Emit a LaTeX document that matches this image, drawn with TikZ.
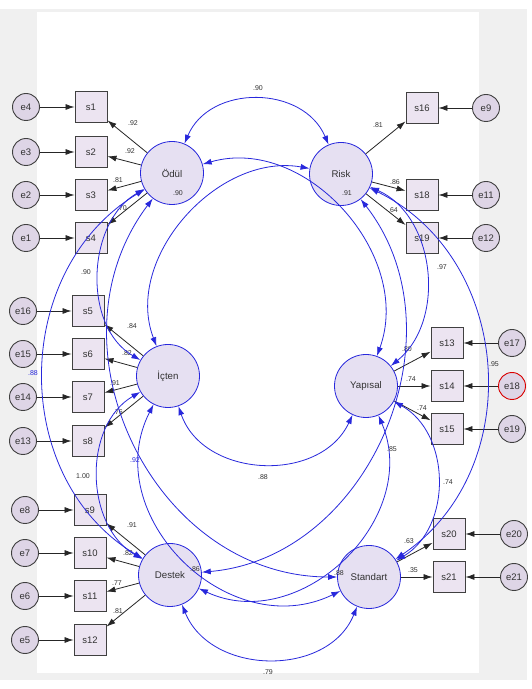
\documentclass[tikz,border=0pt]{standalone}
\usepackage{fontspec}
\setmainfont{Liberation Sans}
\usepackage{tikz}
\usetikzlibrary{arrows.meta}

\definecolor{lav}{RGB}{230,224,242}
\definecolor{boxfill}{RGB}{236,228,241}
\definecolor{errfill}{RGB}{222,213,230}
\definecolor{amosblue}{RGB}{40,40,220}
\definecolor{txt}{RGB}{50,50,50}
\definecolor{panel}{RGB}{240,240,240}

\begin{document}
\begin{tikzpicture}[x=1pt,y=1pt,
    factor/.style={circle,draw=amosblue,line width=0.8pt,fill=lav,minimum size=63pt,inner sep=0pt,font=\fontsize{9.7}{11}\selectfont,text=txt},
    obs/.style={rectangle,draw=black!75,line width=0.9pt,fill=boxfill,minimum width=32pt,minimum height=31pt,inner sep=0pt,font=\fontsize{9.5}{11}\selectfont,text=txt},
    err/.style={circle,draw=black!75,line width=0.9pt,fill=errfill,minimum size=27pt,inner sep=0pt,font=\fontsize{9.5}{11}\selectfont,text=txt},
    load/.style={-{Latex[length=9pt,width=6pt]},line width=0.8pt,black!85},
    cov/.style={{Latex[length=9pt,width=6pt]}-{Latex[length=9pt,width=6pt]},line width=0.8pt,amosblue},
    lbl/.style={font=\fontsize{7}{8}\selectfont,text=txt,inner sep=0pt},
    blbl/.style={lbl,text=amosblue}]
       \useasboundingbox (0,0) rectangle (531,689);
       \fill[panel] (0,9) rectangle (527,680);
       \fill[white] (37,16) rectangle (479,676.5);

       \node[factor] (odul) at (172,516) {Ödül};
       \node[factor] (risk) at (341,515) {Risk};
       \node[factor] (icten) at (168,313) {İçten};
       \node[factor] (yapisal) at (366,303) {Yapısal};
       \node[factor] (destek) at (170,114) {Destek};
       \node[factor] (standart) at (369,112) {Standart};

       \node[obs] (s1) at (91,582) {s1};
       \node[obs] (s2) at (91,537) {s2};
       \node[obs] (s3) at (91,494) {s3};
       \node[obs] (s4) at (91,451) {s4};
       \node[obs] (s5) at (88,378) {s5};
       \node[obs] (s6) at (88,335) {s6};
       \node[obs] (s7) at (88,292) {s7};
       \node[obs] (s8) at (88,248) {s8};
       \node[obs] (s9) at (90,179) {s9};
       \node[obs] (s10) at (90,136) {s10};
       \node[obs] (s11) at (90,93) {s11};
       \node[obs] (s12) at (90,49) {s12};
       \node[obs] (s16) at (422,581) {s16};
       \node[obs] (s18) at (422,494) {s18};
       \node[obs] (s19) at (422,451) {s19};
       \node[obs] (s13) at (447,346) {s13};
       \node[obs] (s14) at (447,303) {s14};
       \node[obs] (s15) at (447,260) {s15};
       \node[obs] (s20) at (449,155) {s20};
       \node[obs] (s21) at (449,112) {s21};

       \node[err] (e4) at (26,582) {e4};
       \node[err] (e3) at (26,537) {e3};
       \node[err] (e2) at (26,494) {e2};
       \node[err] (e1) at (26,451) {e1};
       \node[err] (e16) at (23,378) {e16};
       \node[err] (e15) at (23,335) {e15};
       \node[err] (e14) at (23,292) {e14};
       \node[err] (e13) at (23,248) {e13};
       \node[err] (e8) at (25,179) {e8};
       \node[err] (e7) at (25,136) {e7};
       \node[err] (e6) at (25,93) {e6};
       \node[err] (e5) at (25,49) {e5};
       \node[err] (e9) at (486,581) {e9};
       \node[err] (e11) at (486,494) {e11};
       \node[err] (e12) at (486,451) {e12};
       \node[err] (e17) at (512,346) {e17};
       \node[err,draw=red!85!black] (e18) at (512,303) {e18};
       \node[err] (e19) at (512,260) {e19};
       \node[err] (e20) at (514,155) {e20};
       \node[err] (e21) at (514,112) {e21};

       \draw[load] (e4) -- (s1);
       \draw[load] (e3) -- (s2);
       \draw[load] (e2) -- (s3);
       \draw[load] (e1) -- (s4);
       \draw[load] (e16) -- (s5);
       \draw[load] (e15) -- (s6);
       \draw[load] (e14) -- (s7);
       \draw[load] (e13) -- (s8);
       \draw[load] (e8) -- (s9);
       \draw[load] (e7) -- (s10);
       \draw[load] (e6) -- (s11);
       \draw[load] (e5) -- (s12);
       \draw[load] (e9) -- (s16);
       \draw[load] (e11) -- (s18);
       \draw[load] (e12) -- (s19);
       \draw[load] (e17) -- (s13);
       \draw[load] (e18) -- (s14);
       \draw[load] (e19) -- (s15);
       \draw[load] (e20) -- (s20);
       \draw[load] (e21) -- (s21);

       \draw[load] (odul) -- (s1) node[lbl] (l1) at (133,566) {.92};
       \draw[load] (odul) -- (s2) node[lbl] (l2) at (130,538) {.92};
       \draw[load] (odul) -- (s3) node[lbl] (l3) at (118,509) {.81};
       \draw[load] (odul) -- (s4) node[lbl] (l4) at (122,481) {.70};
       \draw[load] (icten) -- (s5) node[lbl] (l5) at (132,363) {.84};
       \draw[load] (icten) -- (s6) node[lbl] (l6) at (127,336) {.82};
       \draw[load] (icten) -- (s7) node[lbl] (l7) at (115,306) {.91};
       \draw[load] (icten) -- (s8) node[lbl] (l8) at (118,277) {.76};
       \draw[load] (destek) -- (s9) node[lbl] (l9) at (132,164) {.91};
       \draw[load] (destek) -- (s10) node[lbl] (l10) at (128,136) {.82};
       \draw[load] (destek) -- (s11) node[lbl] (l11) at (117,106) {.77};
       \draw[load] (destek) -- (s12) node[lbl] (l12) at (118,78) {.81};
       \draw[load] (risk) -- (s16) node[lbl] (l16) at (378,564) {.81};
       \draw[load] (risk) -- (s18) node[lbl] (l18) at (395,507) {.86};
       \draw[load] (risk) -- (s19) node[lbl] (l19) at (393,479) {.64};
       \draw[load] (yapisal) -- (s13) node[lbl] (l13) at (407,340) {.80};
       \draw[load] (yapisal) -- (s14) node[lbl] (l14) at (411,310) {.74};
       \draw[load] (yapisal) -- (s15) node[lbl] (l15) at (422,281) {.74};
       \draw[load] (standart) -- (s20) node[lbl] (l20) at (409,148) {.63};
       \draw[load] (standart) -- (s21) node[lbl] (l21) at (413,119) {.35};

       \draw[cov] (odul) to[out=67,in=113,looseness=1.15] (risk);
       \draw[cov] (odul) to[out=210,in=150,looseness=1.0] (icten);
       \draw[cov] (odul) to[out=211,in=149,looseness=1.08] (destek);
       \draw[cov] (odul) to[out=16,in=70,looseness=1.06] (yapisal);
       \draw[cov] (odul) to[out=233,in=180,looseness=1.12] (standart);
       \draw[cov] (risk) to[out=170,in=111,looseness=1.02] (icten);
       \draw[cov] (risk) to[out=336,in=39,looseness=1.02] (yapisal);
       \draw[cov] (risk) to[out=308,in=5,looseness=1.07] (destek);
       \draw[cov] (risk) to[out=334,in=34,looseness=1.1] (standart);
       \draw[cov] (icten) to[out=-71,in=245,looseness=1.12] (yapisal);
       \draw[cov] (icten) to[out=210,in=150,looseness=1.02] (destek);
       \draw[cov] (icten) to[out=243,in=206,looseness=1.20] (standart);
       \draw[cov] (yapisal) to[out=-67,in=-25,looseness=1.15] (destek);
       \draw[cov] (yapisal) to[out=331,in=31,looseness=1.05] (standart);
       \draw[cov] (destek) to[out=-68,in=248,looseness=1.12] (standart);

       \node[lbl] (c1) at (258,601) {.90};
       \node[lbl] (c2) at (86,417) {.90};
       \node[lbl] (c3) at (347,496) {.91};
       \node[blbl] (c4) at (33,316) {.88};
       \node[blbl] (c5) at (135,229) {.92};
       \node[lbl] (c6) at (178,496) {.90};
       \node[lbl] (c7) at (442,422) {.97};
       \node[lbl] (c8) at (392,240) {.85};
       \node[lbl] (c9) at (494,325) {.95};
       \node[lbl] (c10) at (263,212) {.88};
       \node[lbl] (c11) at (83,213) {1.00};
       \node[lbl] (c12) at (339,116) {.88};
       \node[lbl] (c13) at (195,120) {.86};
       \node[lbl] (c14) at (448,207) {.74};
       \node[lbl] (c15) at (268,17) {.79};
\end{tikzpicture}
\end{document}
